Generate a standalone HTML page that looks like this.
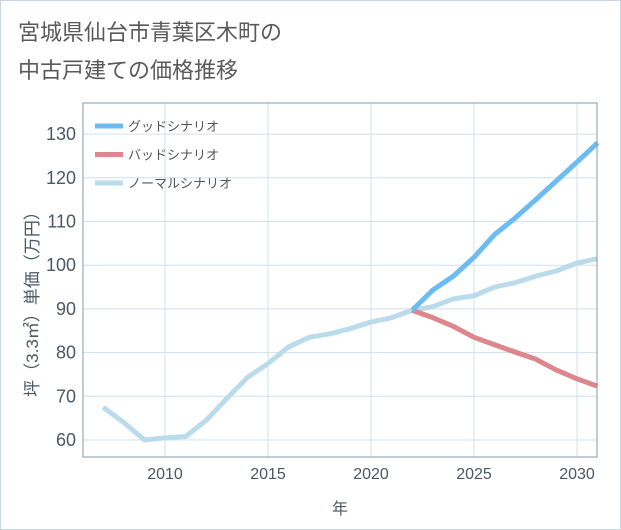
<!DOCTYPE html>
<html><head><meta charset="utf-8"><style>
body{margin:0;background:#fff;}
#card{position:absolute;left:0;top:0;width:619px;height:528px;border:1px solid #c8d6e0;background:#fff;font-family:"Liberation Sans","Noto Sans CJK JP",sans-serif;}
</style></head><body>
<div id="card">
<svg width="621" height="530" style="position:absolute;left:-1px;top:-1px">
<text x="18" y="40" font-size="22" fill="#5a5a5a" font-family="Liberation Sans, Noto Sans CJK JP, sans-serif">宮城県仙台市青葉区木町の</text>
<text x="18" y="78" font-size="22" fill="#5a5a5a" font-family="Liberation Sans, Noto Sans CJK JP, sans-serif">中古戸建ての価格推移</text>
<g id="grid"></g><g id="lines"></g><g id="axes"></g>
<rect x="83" y="103" width="514" height="354" fill="none" stroke="#8a9aa8" stroke-width="1"/>
<text x="340" y="514" font-size="16" fill="#4a5866" text-anchor="middle" font-family="Liberation Sans, Noto Sans CJK JP, sans-serif">年</text>
<text transform="translate(38,300) rotate(-90)" font-size="17" fill="#4a5866" text-anchor="middle" font-family="Liberation Sans, Noto Sans CJK JP, sans-serif">坪（3.3㎡）単価（万円）</text>
<g id="legend"></g>
</svg></div>
<script>
const years=[2007,2008,2009,2010,2011,2012,2013,2014,2015,2016,2017,2018,2019,2020,2021,2022,2023,2024,2025,2026,2027,2028,2029,2030,2031];
const normal=[67.5,64,60,60.5,60.8,64.5,69.5,74.3,77.5,81.3,83.5,84.3,85.5,87,88,89.7,90.5,92.3,93,95,96,97.5,98.7,100.5,101.5];
const futureYears=[2022,2023,2024,2025,2026,2027,2028,2029,2030,2031];
const good=[89.7,94.3,97.5,101.8,107,110.8,115,119.3,123.6,128];
const bad=[89.7,88,86,83.5,81.8,80.1,78.5,76,74,72.3];
const xTicks=[2010,2015,2020,2025,2030];
const yTicks=[60,70,80,90,100,110,120,130];
const NS="http://www.w3.org/2000/svg";
const X=y=>165+(y-2010)*20.6;
const Y=v=>440-(v-60)*43.7/10;
function el(t,a,p){const e=document.createElementNS(NS,t);for(const k in a)e.setAttribute(k,a[k]);document.getElementById(p).appendChild(e);return e;}
xTicks.forEach(t=>{const l=el('line',{x1:X(t),x2:X(t),y1:103,y2:457,stroke:'#d0e0ea'},'grid');


const tx=el('text',{x:X(t),y:479,'font-size':16,fill:'#4a5866','text-anchor':'middle'},'axes');tx.textContent=t;

});
yTicks.forEach(t=>{const l=el('line',{x1:83,x2:597,y1:Y(t),y2:Y(t),stroke:'#d0e0ea'},'grid');


const tx=el('text',{x:76,y:Y(t)+6,'font-size':18,fill:'#4a5866','text-anchor':'end'},'axes');tx.textContent=t;

});
function line(xs,vs,c,name){const p=el('polyline',{points:xs.map((x,i)=>X(x)+','+Y(vs[i])).join(' '),fill:'none',stroke:c,'stroke-width':5,'stroke-linejoin':'round'},'lines');

}
line(years,normal,'#badcea','normal-scenario-line');
line(futureYears,bad,'#de868e','bad-scenario-line');
line(futureYears,good,'#6cbcf2','good-scenario-line');
[['グッドシナリオ','#6cbcf2'],['バッドシナリオ','#de868e'],['ノーマルシナリオ','#badcea']].forEach((d,i)=>{const y=126+i*28.5;
const l=el('line',{x1:95,x2:123,y1:y,y2:y,stroke:d[1],'stroke-width':5},'legend');


const t=el('text',{x:128,y:y+5,'font-size':13,fill:'#555'},'legend');t.textContent=d[0];

});
</script>
</body></html>
